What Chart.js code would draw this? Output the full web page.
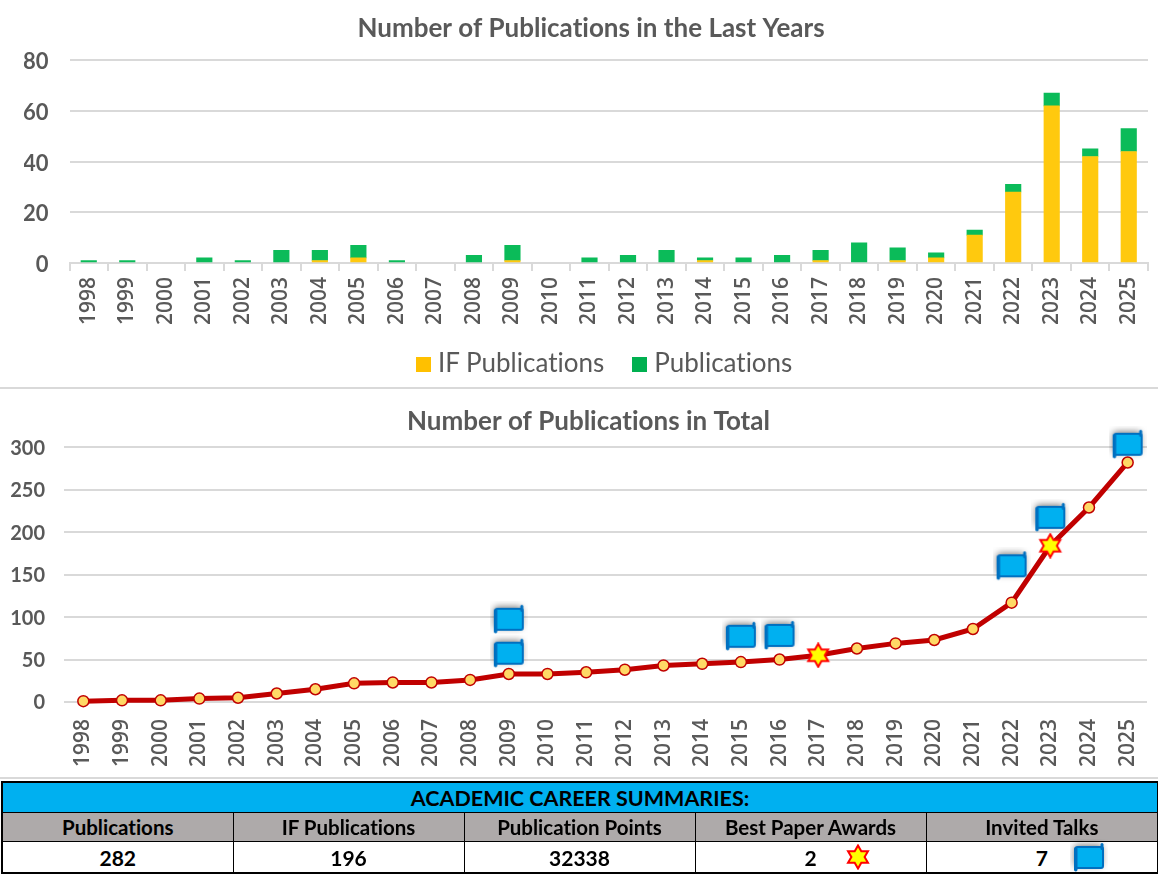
<!DOCTYPE html>
<html>
<head>
<meta charset="utf-8">
<title>Number of Publications</title>
<script src="https://cdn.jsdelivr.net/npm/chart.js@4"></script>
<style>
  html, body { margin: 0; padding: 0; background: #fff; }
  body { position: relative; width: 1158px; height: 875px; overflow: hidden; font-family: Lato, sans-serif; font-variant-ligatures: none; }
  canvas.chart { position: absolute; left: 0; }
  .rule { position: absolute; left: 0; width: 1158px; height: 2px; background: #d9d9d9; }
  #legend { position: absolute; left: 416px; top: 346px; font-size: 26px; line-height: 32px; color: #595959; white-space: nowrap; }
  #legend span { display: inline-block; }
  #legend i { display: inline-block; width: 15px; height: 15px; margin-right: 7px; }
  #legend .item { margin-right: 28px; }
  table { position: absolute; left: 1px; top: 781px; width: 1156px; border-collapse: collapse; table-layout: fixed;
          border: 2px solid #000; font-weight: 700; color: #000; text-align: center; }
  td { border: 1.5px solid #000; padding: 0; position: relative; }
  .head td { background: #00b0f0; height: 29px; font-size: 21.5px; }
  .cols td { background: #aeaaaa; height: 28px; font-size: 20.5px; }
  .vals td { background: #fff; height: 30px; font-size: 21px; }
  td canvas { position: absolute; top: 50%; left: 50%; transform: translate(-50%, -50%); margin-left: 47px; }
</style>
</head>
<body>
<canvas class="chart" id="lastYears" width="1158" height="388" style="top:0"></canvas>
<div id="legend"></div>
<div class="rule" style="top:387px"></div>
<canvas class="chart" id="total" width="1158" height="388" style="top:390px"></canvas>
<div class="rule" style="top:777px"></div>
<table>
  <colgroup><col style="width:231px"><col style="width:231px"><col style="width:231px"><col style="width:231px"><col style="width:232px"></colgroup>
  <tr class="head"><td colspan="5">ACADEMIC CAREER SUMMARIES:</td></tr>
  <tr class="cols"><td>Publications</td><td>IF Publications</td><td>Publication Points</td><td>Best Paper Awards</td><td>Invited Talks</td></tr>
  <tr class="vals"><td>282</td><td>196</td><td>32338</td><td id="awardCell">2</td><td id="talkCell">7</td></tr>
</table>
<script>
// chart data
const years = ['1998','1999','2000','2001','2002','2003','2004','2005','2006','2007','2008','2009','2010','2011',
               '2012','2013','2014','2015','2016','2017','2018','2019','2020','2021','2022','2023','2024','2025'];
const ifPublications = [0,0,0,0,0,0,1,2,0,0,0,1,0,0,0,0,1,0,0,1,0,1,2,11,28,62,42,44];
const otherPublications = [1,1,0,2,1,5,4,5,1,0,3,6,0,2,3,5,1,2,3,4,8,5,2,2,3,5,3,9];
const totalPublications = [1,2,2,4,5,10,15,22,23,23,26,33,33,35,38,43,45,47,50,55,63,69,73,86,117,184,229,282];
const awardYears = ['2017','2023'];
const talkYears = ['2009','2009','2015','2016','2022','2023','2025'];
const talkLevels = [58,98,78,79,161,218,304];

const FONT = 'Lato, sans-serif';
const TICK_FONT = '"Open Sans", sans-serif';
const GREY = '#595959';
const GRID = '#d9d9d9';

// canvas text has ligatures on by default, the original has none
Chart.register({ id: 'noLigatures', beforeDraw(chart) { chart.ctx.textRendering = 'optimizeSpeed'; } });

// titles sit a bit right of the canvas centre
function titleNudge(dx) {
  return { id: 'titleNudge', afterLayout(chart) { chart.titleBlock.left += dx; chart.titleBlock.right += dx; } };
}

// fixed height for the x axis, and no extra room asked for the rotated labels
function fitX(height) {
  return s => { s.height = height; s.paddingLeft = 0; s.paddingRight = 0; };
}

// little star picture used for awards
function makeStar() {
  const c = document.createElement('canvas');
  c.width = 26; c.height = 26;
  const g = c.getContext('2d');
  g.beginPath();
  for (let i = 0; i < 12; i++) {
    const r = i % 2 ? 6.6 : 11.5;
    const a = -Math.PI / 2 + i * Math.PI / 6;
    g.lineTo(13 + r * Math.cos(a), 13 + r * Math.sin(a));
  }
  g.closePath();
  g.fillStyle = '#ffff00';
  g.fill();
  g.lineWidth = 2;
  g.strokeStyle = '#ff0000';
  g.stroke();
  return c;
}

// little scroll picture used for invited talks
function makeFlag() {
  const c = document.createElement('canvas');
  c.width = 38; c.height = 36;
  const g = c.getContext('2d');
  g.shadowColor = 'rgba(0,0,0,0.55)';
  g.shadowBlur = 7;
  g.shadowOffsetX = -1;
  g.shadowOffsetY = -2;
  g.fillStyle = '#00b0f0';
  g.strokeStyle = '#0070c0';
  g.lineWidth = 2;
  g.beginPath();
  g.roundRect(5.5, 8, 27.5, 21, 2);
  g.fill();
  g.shadowColor = 'transparent';
  g.stroke();
  g.fillStyle = '#0070c0';
  g.beginPath();
  g.roundRect(4, 8, 3.5, 24.5, 1.7);
  g.fill();
  g.beginPath();
  g.roundRect(30.5, 4, 3, 7, 1.5);
  g.fill();
  return c;
}

const starImg = makeStar();
const flagImg = makeFlag();
document.getElementById('awardCell').appendChild(makeStar());
document.getElementById('talkCell').appendChild(makeFlag());

// bar chart
const barChart = new Chart(document.getElementById('lastYears'), {
  type: 'bar',
  data: {
    labels: years,
    datasets: [
      { label: 'IF Publications', data: ifPublications.map(v => v || null), backgroundColor: '#ffc90e', barThickness: 15.5 },
      { label: 'Publications', data: otherPublications.map(v => v || null), backgroundColor: '#0bbb59', barThickness: 15.5 }
    ]
  },
  options: {
    responsive: false,
    animation: false,
    layout: { padding: { left: 24, right: 10, bottom: 48 } },
    plugins: {
      title: { display: true, text: 'Number of Publications in the Last Years', color: GREY,
               font: { family: FONT, size: 26, weight: '700', lineHeight: 1.2 }, padding: { top: 13, bottom: 16 } },
      legend: { display: false },
      tooltip: { enabled: false }
    },
    scales: {
      x: {
        stacked: true,
        afterFit: fitX(77),
        grid: { drawOnChartArea: false, color: GRID, lineWidth: 2, tickLength: 8, tickColor: GRID },
        border: { color: GRID, width: 2 },
        ticks: { color: GREY, font: { family: TICK_FONT, size: 21, weight: '600' }, minRotation: 90, maxRotation: 90, autoSkip: false, padding: 6 }
      },
      y: {
        stacked: true, min: 0, max: 80,
        afterFit: s => { s.width = 45.5; },
        grid: { color: GRID, lineWidth: 2, drawTicks: false },
        border: { display: false },
        ticks: { stepSize: 20, color: GREY, font: { family: FONT, size: 22, weight: '700' }, padding: 21, labelOffset: 2 }
      }
    }
  },
  plugins: [titleNudge(5)]
});

// legend built from the bar chart's series
const legendColors = ['#ffc000', '#00b050'];
document.getElementById('legend').innerHTML = barChart.data.datasets.map((d, i) =>
  `<span class="item"><i style="background:${legendColors[i]}"></i>${d.label}</span>`).join('');

// line chart
new Chart(document.getElementById('total'), {
  type: 'line',
  data: {
    labels: years,
    datasets: [
      { data: talkYears.map((y, i) => ({ x: y, y: talkLevels[i] })), showLine: false, pointStyle: flagImg, clip: false },
      { data: totalPublications, borderColor: '#c00000', borderWidth: 5, tension: 0, clip: false,
        pointBackgroundColor: '#ffd966', pointBorderColor: '#c00000', pointBorderWidth: 1.5, pointRadius: 5.5,
        pointStyle: ctx => awardYears.includes(years[ctx.dataIndex]) ? starImg : 'circle' }
    ]
  },
  options: {
    responsive: false,
    animation: false,
    layout: { padding: { left: 8, right: 11 } },
    plugins: {
      title: { display: true, text: 'Number of Publications in Total', color: GREY,
               font: { family: FONT, size: 26, weight: '700', lineHeight: 1.2 }, padding: { top: 16, bottom: 10 } },
      legend: { display: false },
      tooltip: { enabled: false }
    },
    scales: {
      x: {
        offset: true,
        afterFit: fitX(76),
        grid: { display: false },
        border: { display: false },
        ticks: { color: GREY, font: { family: TICK_FONT, size: 21, weight: '600' }, minRotation: 90, maxRotation: 90, autoSkip: false, padding: 9 }
      },
      y: {
        min: 0, max: 300,
        afterFit: s => { s.width = 56; },
        grid: { color: GRID, lineWidth: 2, drawTicks: false },
        border: { display: false },
        ticks: { stepSize: 50, color: GREY, font: { family: FONT, size: 20, weight: '700' }, padding: 19, labelOffset: 1 }
      }
    }
  },
  plugins: [titleNudge(11)]
});
</script>
</body>
</html>
